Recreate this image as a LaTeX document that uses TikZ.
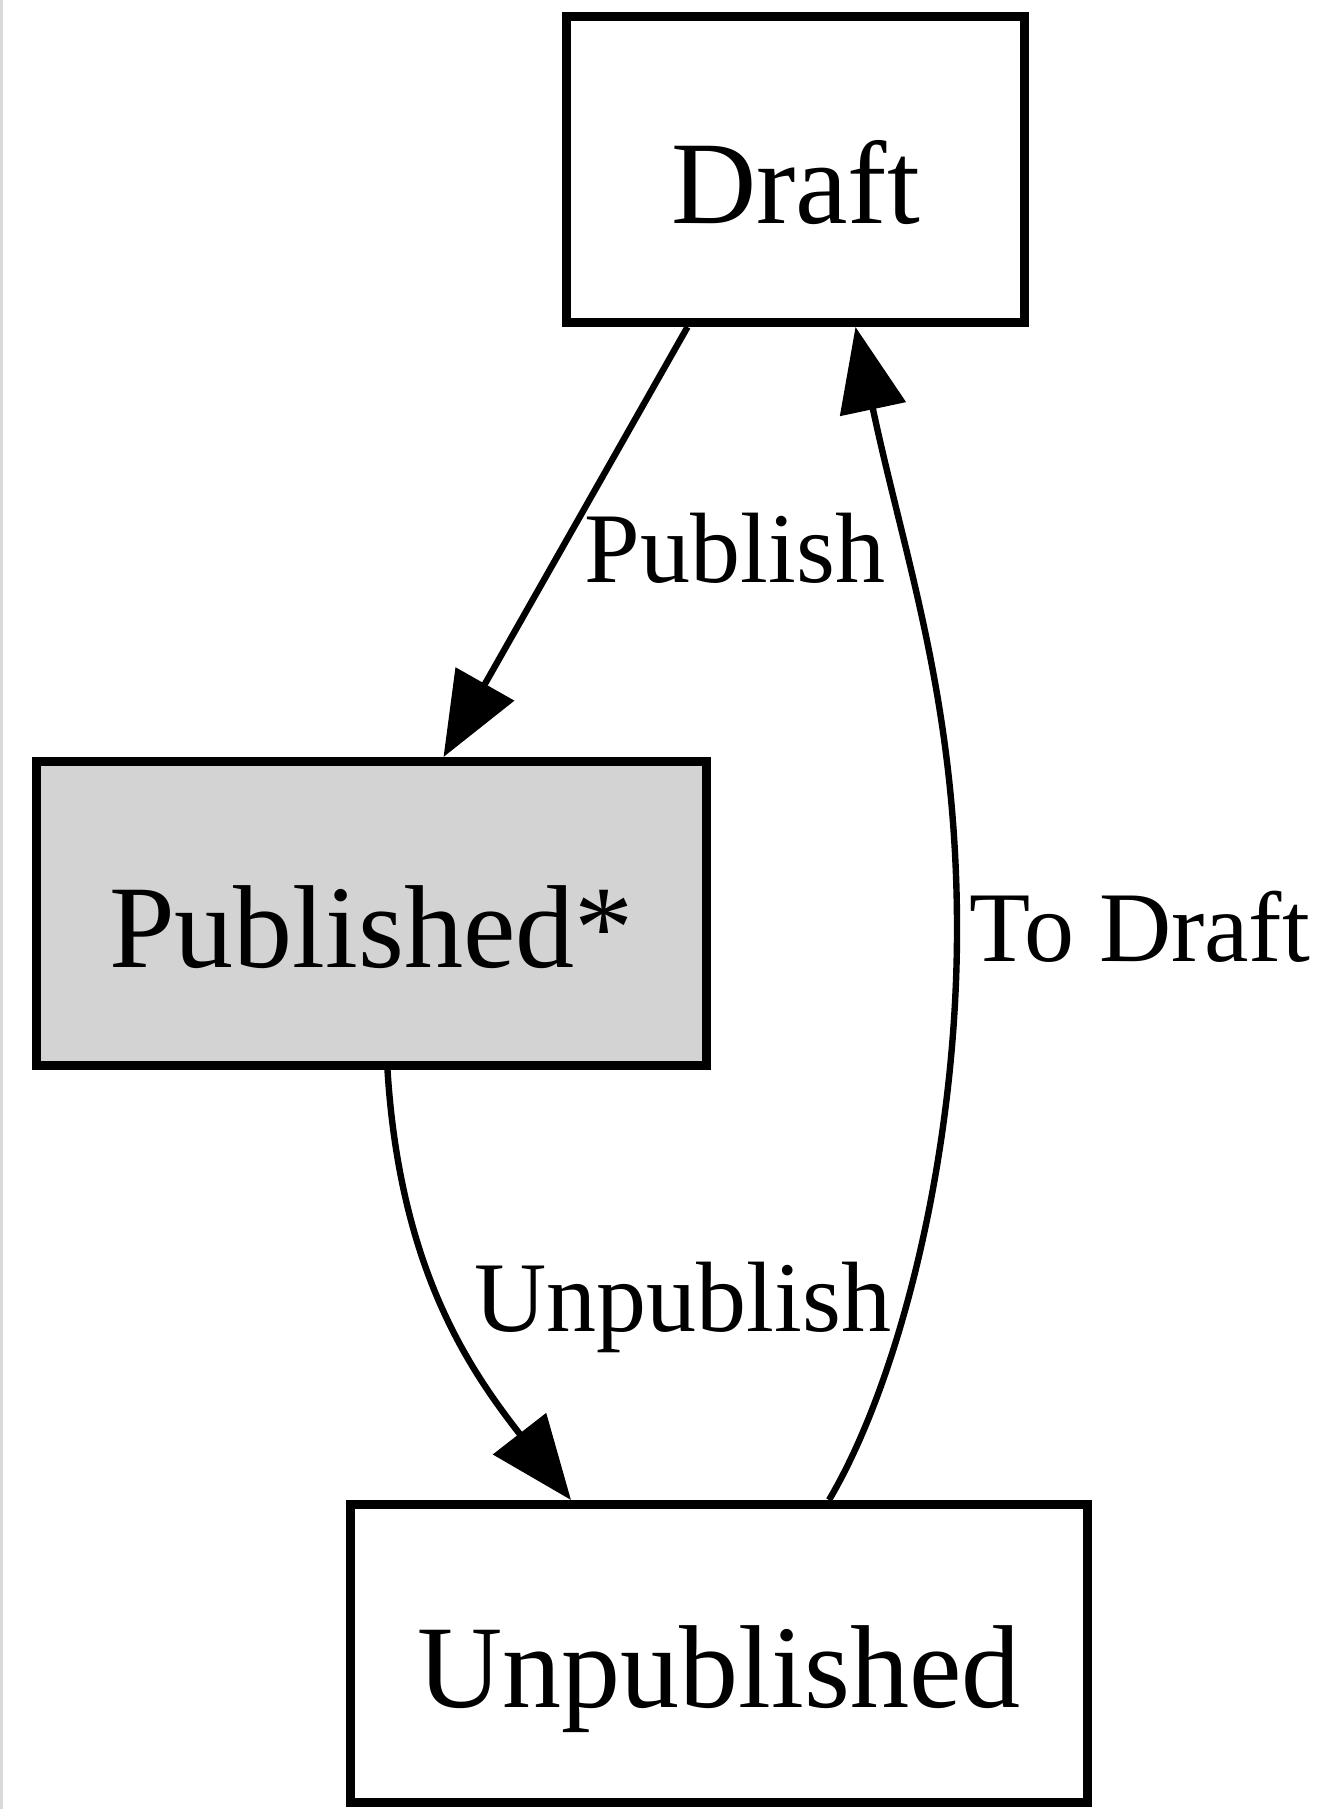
\documentclass[tikz,border=0pt]{standalone}
\usepackage{fontspec}
\setmainfont{Liberation Serif}
\usepackage{tikz}
\usetikzlibrary{arrows.meta}
\usepackage{xcolor}
\definecolor{pubgray}{RGB}{211,211,211}

\begin{document}
\begin{tikzpicture}[
    x=0.5pt, y=-0.5pt,
    statebox/.style={draw, line width=4.5pt, minimum height=153pt, inner sep=0pt, text height=60pt, text depth=6.5pt, font=\fontsize{59}{70}\selectfont, fill=#1},
    statebox/.default=white,
    arrow/.style={-{Triangle[length=42pt, width=33pt]}, line width=3.2pt},
    trans/.style={inner sep=0pt, font=\fontsize{50}{60}\selectfont}
]
\useasboundingbox (0,0) rectangle (1333,1809);
% thin frame line on the left
\draw[black!15, line width=1.5pt] (1.5,0) -- (1.5,1809);

\node[statebox, minimum width=229pt] (draft) at (795.5,169.5) {Draft};
\node[statebox=pubgray, minimum width=335pt, minimum height=152pt] (published) at (371.5,913.5) {Published*};
\node[statebox, minimum width=368.5pt, minimum height=149pt] (unpublished) at (719,1653.5) {Unpublished};

\draw[arrow] ([xshift=-54pt]draft.south) -- ([xshift=36pt]published.north);
\draw[arrow] ([xshift=8pt]published.south) .. controls (400,1270) and (470,1370) .. ([xshift=-74pt]unpublished.north);
\draw[arrow] ([xshift=55pt]unpublished.north) .. controls (900,1380) and (958,1150) .. (957,923)
    .. controls (956,700) and (905,560) .. ([xshift=30pt]draft.south);

% labels
\node[trans] (lpublish) at (735,548) {Publish};
\node[trans] (lunpublish) at (683,1307) {Unpublish};
\node[trans] (ltodraft) at (1140,927) {To Draft};
\end{tikzpicture}
\end{document}
